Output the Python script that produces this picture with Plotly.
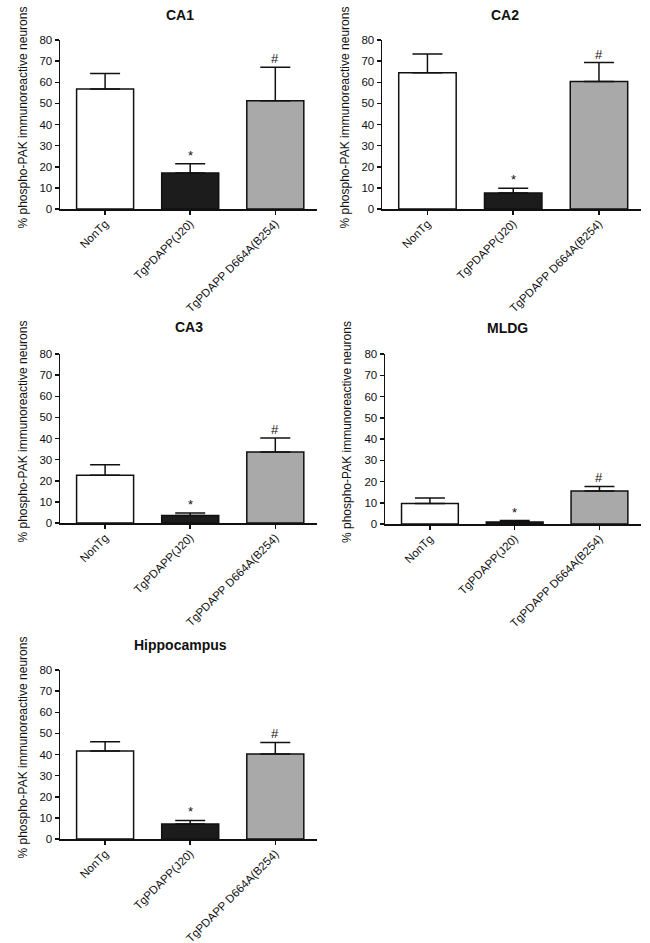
import plotly.graph_objects as go

W, H = 650, 943

categories = ["NonTg", "TgPDAPP(J20)", "TgPDAPP D664A(B254)"]
regions = ["CA1", "CA2", "CA3", "MLDG", "Hippocampus"]

ca1_mean = [56.8, 17.0, 51.2]
ca1_sem = [7.4, 4.4, 15.9]
ca2_mean = [64.5, 7.6, 60.3]
ca2_sem = [8.9, 2.2, 9.0]
ca3_mean = [22.6, 3.6, 33.6]
ca3_sem = [5.0, 1.1, 6.6]
mldg_mean = [9.6, 0.9, 15.5]
mldg_sem = [2.6, 0.7, 2.2]
hip_mean = [41.7, 7.1, 40.2]
hip_sem = [4.3, 1.7, 5.5]

sig_marks = ["", "*", "#"]
y_ticks = [0, 10, 20, 30, 40, 50, 60, 70, 80]
y_title = "% phospho-PAK immunoreactive neurons"

means = [ca1_mean, ca2_mean, ca3_mean, mldg_mean, hip_mean]
sems = [ca1_sem, ca2_sem, ca3_sem, mldg_sem, hip_sem]

bar_colors = ["#ffffff", "#1c1c1c", "#a9a9a9"]

# panel boxes in window pixels: (left, right, top, bottom)
boxes = [
    (60, 317, 40, 209),
    (382, 641, 40, 209),
    (60, 317, 354, 523),
    (385, 641, 354, 524),
    (60, 317, 670, 839),
]
title_pos = [(180, 15), (505, 15), (189, 327), (507, 328), (180, 645)]


def px(x):
    return x / W


def py(y):
    return 1 - y / H


FONT = "Liberation Sans, Arial, sans-serif"

fig = go.Figure()
annotations = []

for i, (reg, m, s) in enumerate(zip(regions, means, sems)):
    n = i + 1
    xa = "x" if n == 1 else f"x{n}"
    ya = "y" if n == 1 else f"y{n}"
    l, r, t, b = boxes[i]
    fig.add_trace(go.Bar(
        x=categories, y=m,
        xaxis=xa, yaxis=ya,
        width=0.67,
        marker=dict(color=bar_colors, line=dict(color="#111111", width=1.5)),
        error_y=dict(type="data", symmetric=False, array=s, arrayminus=[0, 0, 0],
                     color="#111111", thickness=1.5, width=15),
        showlegend=False,
    ))
    xkey = "xaxis" if n == 1 else f"xaxis{n}"
    ykey = "yaxis" if n == 1 else f"yaxis{n}"
    fig.update_layout(**{
        xkey: dict(domain=[px(l), px(r)], anchor=ya, range=[-0.53, 2.49],
                   automargin=False,
                   showline=True, linecolor="#111111", linewidth=1.5,
                   ticks="outside", ticklen=4, tickcolor="#111111", tickwidth=1.5,
                   ticklabelstandoff=-2,
                   tickangle=-45, tickfont=dict(family=FONT, size=11.5, color="#111111"),
                   showgrid=False, zeroline=False, fixedrange=True),
        ykey: dict(domain=[py(b), py(t)], anchor=xa, range=[0, 80],
                   automargin=False,
                   tickvals=y_ticks, showline=True, linecolor="#111111", linewidth=1.5,
                   ticks="outside", ticklen=4, tickcolor="#111111", tickwidth=1.5,
                   tickfont=dict(family=FONT, size=11.5, color="#111111"),
                   showgrid=False, zeroline=False, fixedrange=True),
    })
    # panel title
    tx, ty = title_pos[i]
    annotations.append(dict(text=f"<b>{reg}</b>", x=px(tx), y=py(ty),
                            xref="paper", yref="paper", showarrow=False,
                            font=dict(family=FONT, size=14, color="#111111"),
                            xanchor="center", yanchor="middle"))
    # y axis title
    annotations.append(dict(text=y_title, x=px(l - 38), y=py((t + b) / 2 - 7),
                            xref="paper", yref="paper", showarrow=False, textangle=-90,
                            font=dict(family=FONT, size=12, color="#111111"),
                            xanchor="center", yanchor="middle"))
    # significance markers
    for c, mk, mv, sv in zip(categories, sig_marks, m, s):
        if mk:
            annotations.append(dict(text=mk, x=c, y=mv + sv, xref=xa, yref=ya,
                                    showarrow=False, yanchor="bottom", yshift=-1,
                                    font=dict(family=FONT, size=13, color="#111111")))

fig.update_layout(width=W, height=H, margin=dict(l=0, r=0, t=0, b=0, autoexpand=False),
                  paper_bgcolor="white", plot_bgcolor="white",
                  annotations=annotations, bargap=0.3)

fig.write_html("out.html", config={"displayModeBar": False, "staticPlot": True},
               post_script="document.body.style.margin='0';document.body.style.overflow='hidden';")
